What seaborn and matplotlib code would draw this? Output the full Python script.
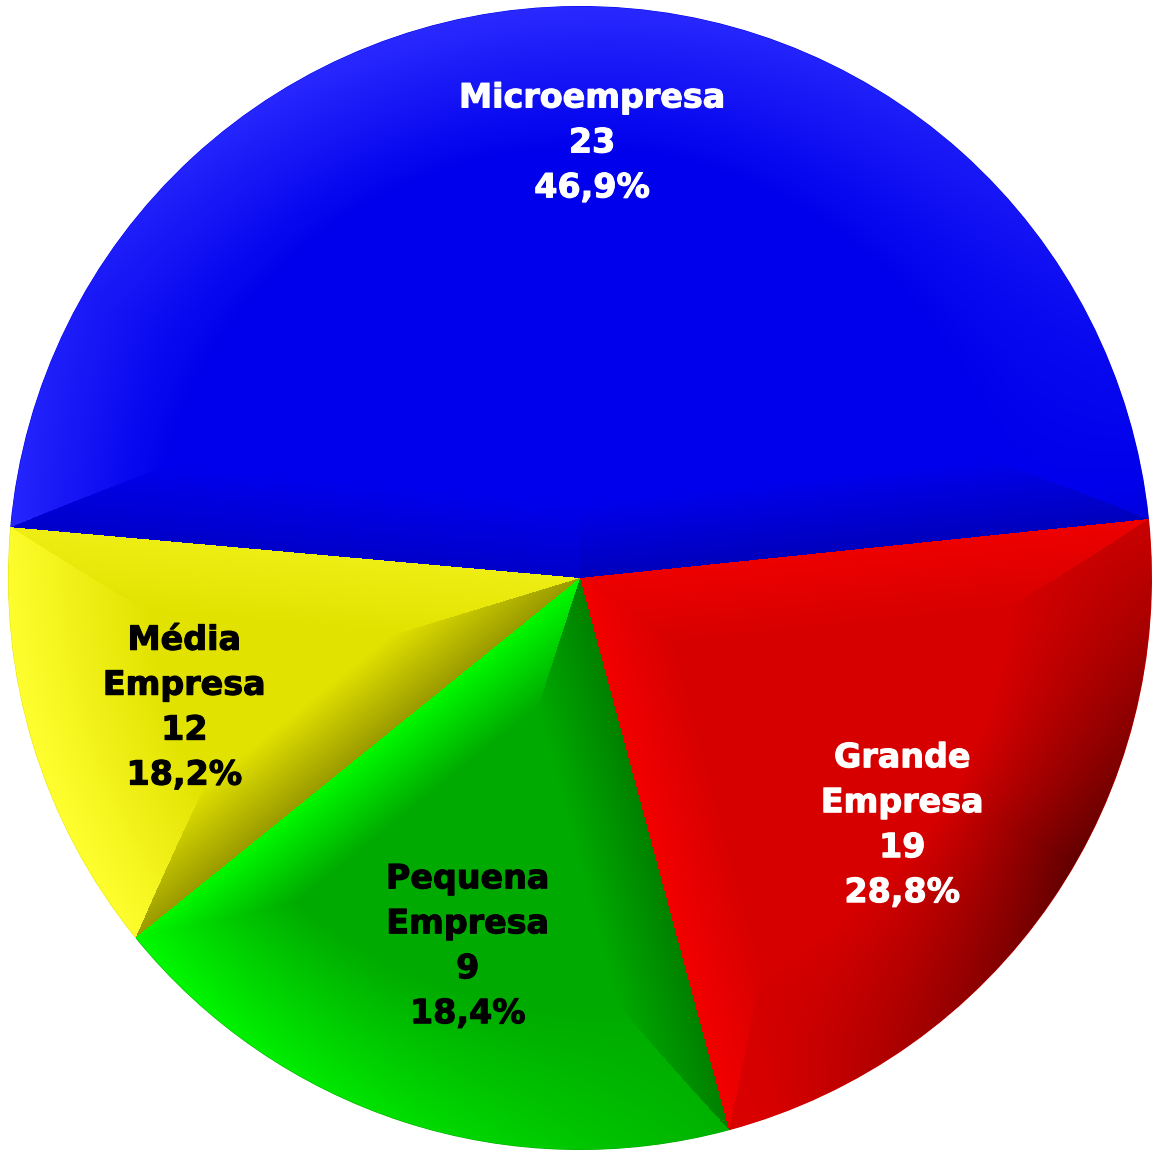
import numpy as np
import seaborn as sns
import matplotlib.pyplot as plt
import matplotlib.patheffects as pe
from matplotlib.colors import to_rgb

# data
categories = ["Microempresa", "Grande Empresa", "Pequena Empresa", "Média Empresa"]
slice_values = [23, 11, 9, 6]
label_counts = ["23", "19", "9", "12"]
label_pcts = ["46,9%", "28,8%", "18,4%", "18,2%"]

flat_colors = ["#0000EC", "#D70000", "#00AA00", "#E2E200"]
bright_colors = ["#2A2AFF", "#FF0000", "#00FF00", "#FFFF30"]
text_colors = ["white", "white", "black", "black"]
label_dist = [0.761, 0.71, 0.673, 0.728]
label_turn = [-2, -3, 1.0, 1.2]

sns.set_theme(style="white")
plt.rcParams["font.family"] = ["DejaVu Sans"]

W, H = 1153, 1154
fig = plt.figure(figsize=(W / 100, H / 100), dpi=100)
fig.patch.set_facecolor("white")
cx, cy, rad = 580, 578, 572
ax = fig.add_axes([(cx - rad) / W, (H - cy - rad) / H, 2 * rad / W, 2 * rad / H])

wedges, _ = ax.pie(
    slice_values,
    colors=flat_colors,
    startangle=174.9,
    counterclock=False,
    radius=1,
    wedgeprops=dict(linewidth=0, edgecolor="none"),
)
ax.set_xlim(-1, 1)
ax.set_ylim(-1, 1)
ax.set_aspect("equal")
ax.set_axis_off()

# bevel shading, computed from each wedge's geometry
N = 2 * rad
xs = np.linspace(-1, 1, N)
X, Y = np.meshgrid(xs, xs[::-1])
R = np.hypot(X, Y)
PHI = np.degrees(np.arctan2(Y, X))
img = np.zeros((N, N, 4))
arc_bevel, edge_bevel = 0.25, 0.13

for i, w in enumerate(wedges):
    t1, t2 = w.theta1, w.theta2
    span = t2 - t1
    rel = (PHI - t1) % 360
    inside = rel <= span
    d_arc = (1 - R) / arc_bevel
    d1 = np.where(rel < 90, R * np.sin(np.radians(rel)), R) / edge_bevel
    d2 = np.where(span - rel < 90, R * np.sin(np.radians(span - rel)), R) / edge_bevel
    dist = np.stack([d_arc, d1, d2])
    az = np.radians(np.stack([PHI, np.full_like(PHI, t1 - 90), np.full_like(PHI, t2 + 90)]))
    g_arc = np.maximum(np.cos(az[0] - np.radians(200)), np.cos(az[0] - np.radians(100)))
    g_edge = np.cos(az[1:] - np.radians(150))
    g_edge = np.where(g_edge < 0, 0.4 * g_edge, g_edge)
    g_all = np.concatenate([g_arc[None], g_edge])
    k = np.argmin(dist, axis=0)
    d = np.take_along_axis(dist, k[None], 0)[0]
    g = np.take_along_axis(g_all, k[None], 0)[0]
    tilt = np.clip(1 - d, 0, 1)
    s = tilt * g
    flat = np.array(to_rgb(flat_colors[i]))
    bright = np.array(to_rgb(bright_colors[i]))
    pos = np.clip(s, 0, 1)[..., None]
    neg = np.clip(s, -1, 0)[..., None]
    col = flat + pos * (bright - flat)
    col = col * (1 + 0.85 * neg)
    img[inside, :3] = col[inside]

img[..., 3] = np.clip((1 - R) * rad + 0.5, 0, 1)
ax.imshow(img, extent=(-1, 1, -1, 1), zorder=2, interpolation="nearest")

for i, w in enumerate(wedges):
    mid = np.radians((w.theta1 + w.theta2) / 2 + label_turn[i])
    txt = "\n".join(categories[i].split(" ") + [label_counts[i], label_pcts[i]])
    ax.text(
        label_dist[i] * np.cos(mid),
        label_dist[i] * np.sin(mid),
        txt,
        ha="center",
        va="center",
        fontsize=24,
        fontweight="bold",
        color=text_colors[i],
        linespacing=1.46,
        zorder=3,
        path_effects=[pe.withStroke(linewidth=0.8, foreground=text_colors[i])],
    )

fig.savefig("out.png", dpi=100, facecolor="white")
